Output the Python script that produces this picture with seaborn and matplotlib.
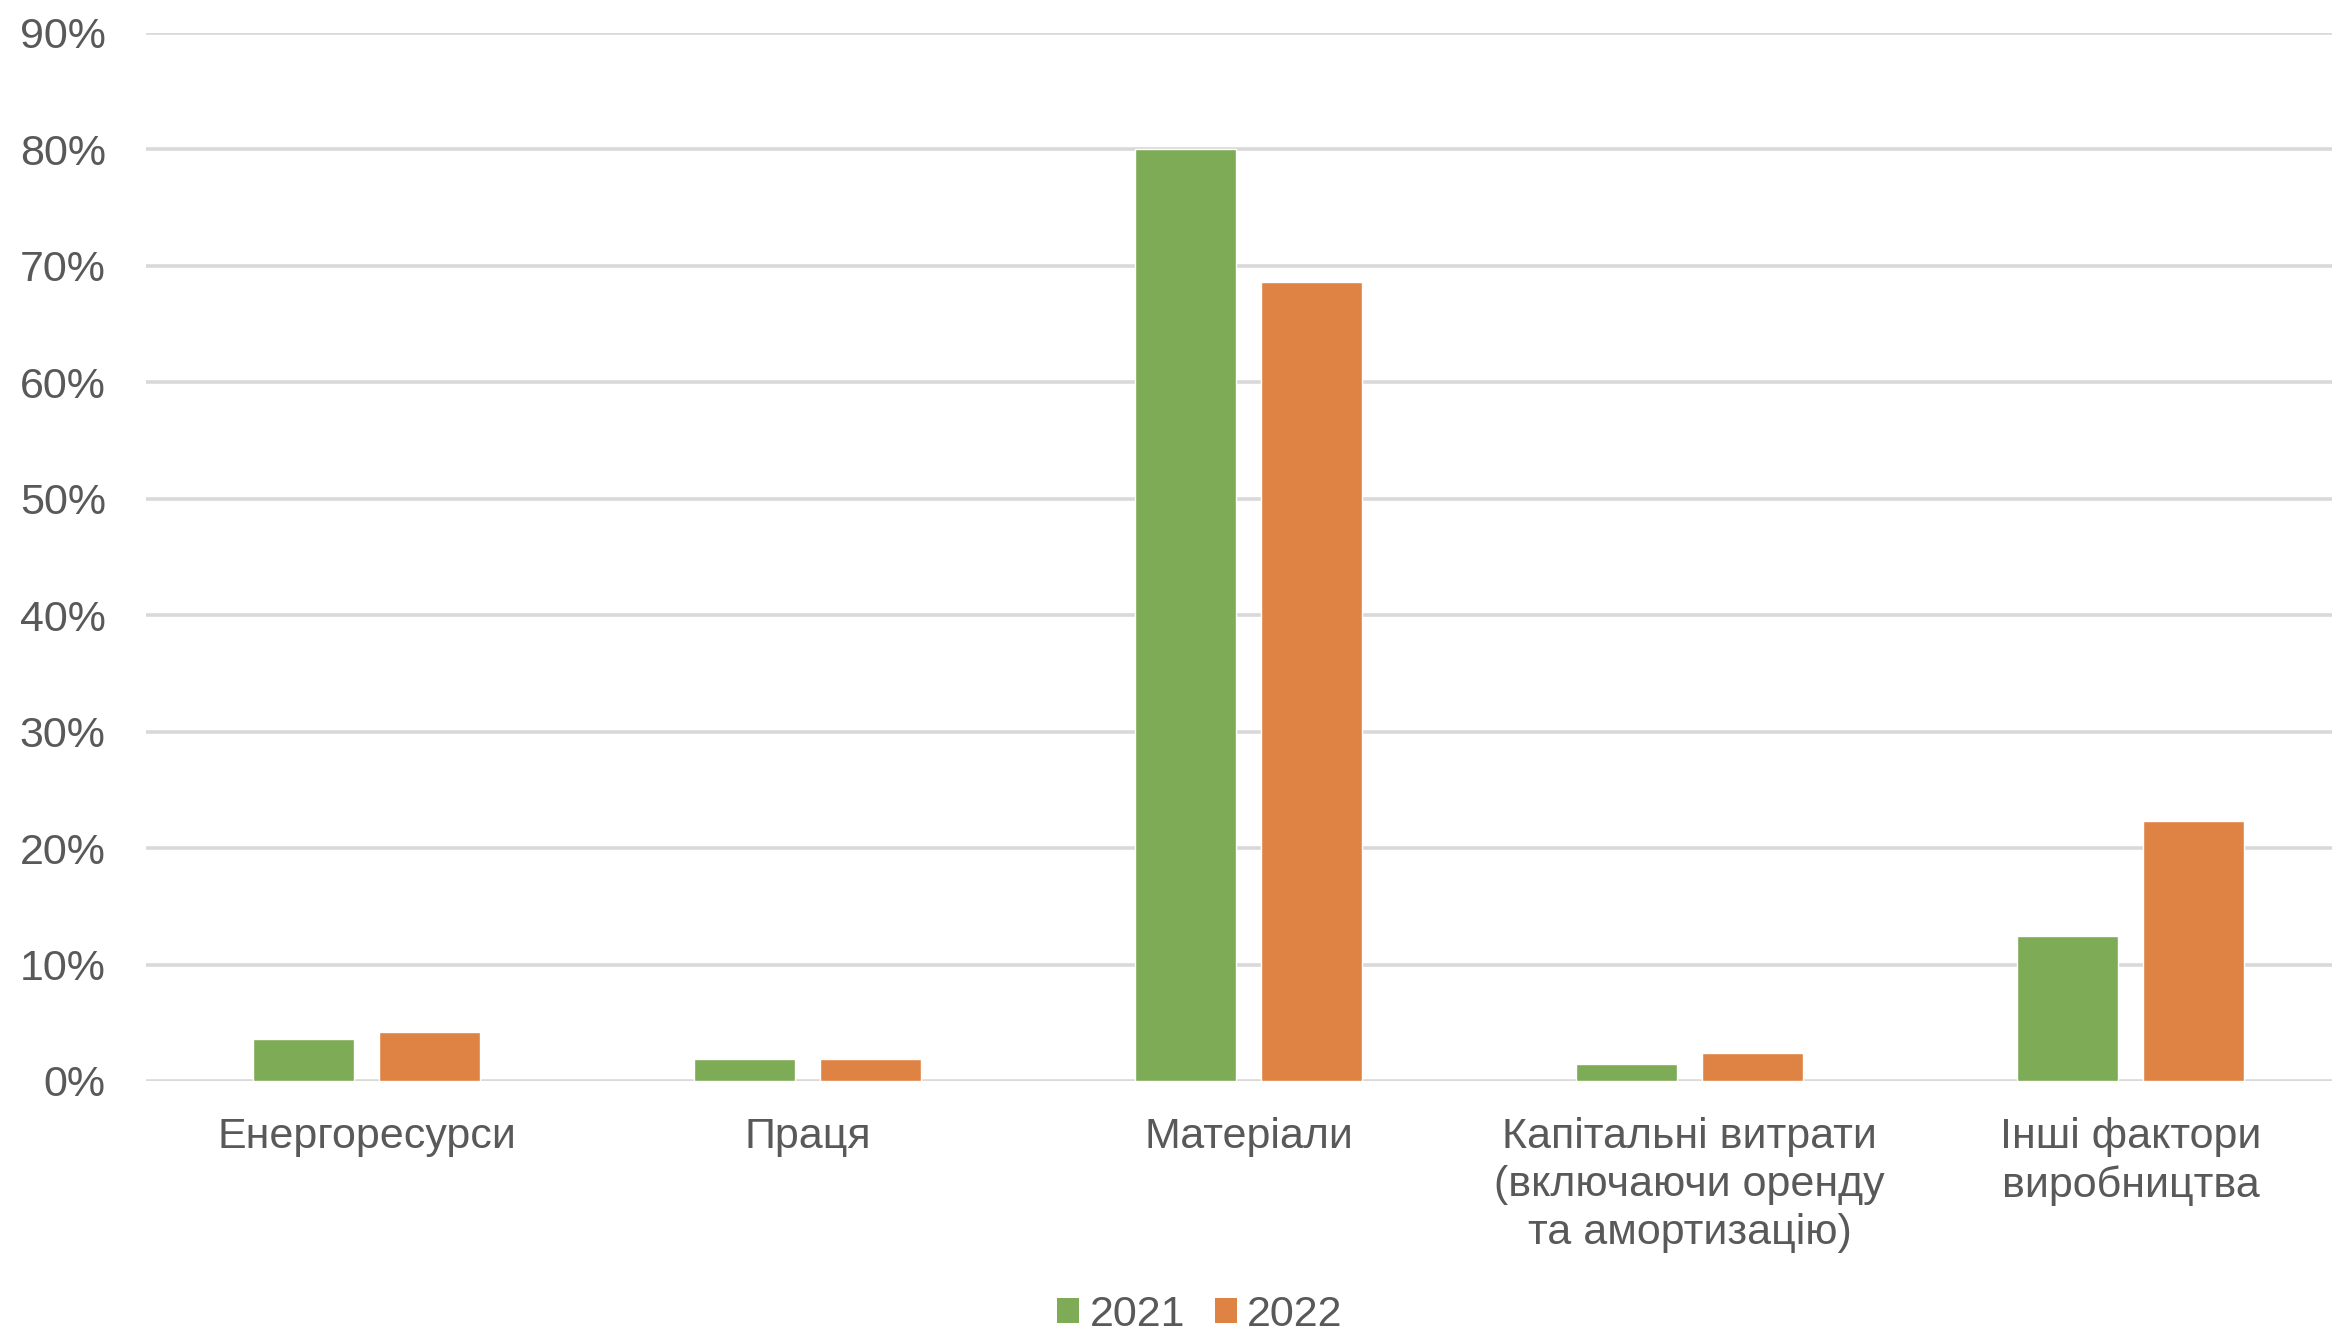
import numpy as np
import pandas as pd
import matplotlib
matplotlib.use("Agg")
import matplotlib.pyplot as plt
import seaborn as sns
from matplotlib.patches import Patch
from matplotlib.ticker import PercentFormatter

categories = [
    "Енергоресурси",
    "Праця",
    "Матеріали",
    "Капітальні витрати\n(включаючи оренду\nта амортизацію)",
    "Інші фактори\nвиробництва",
]
years = ["2021", "2022"]
share_2021 = [0.036, 0.0187, 0.800, 0.0144, 0.1247]
share_2022 = [0.042, 0.0187, 0.686, 0.024, 0.2236]
colors = {"2021": "#7EAB55", "2022": "#DE8344"}

df = pd.DataFrame({
    "category": categories * 2,
    "year": [years[0]] * len(categories) + [years[1]] * len(categories),
    "share": share_2021 + share_2022,
})

sns.set_style("white")
plt.rcParams["font.family"] = ["Liberation Sans", "DejaVu Sans"]
text_color = "#595959"

fig = plt.figure(figsize=(23.32, 13.34), dpi=100)
# plot area runs a little past the right edge of the figure, as in the source
ax = fig.add_axes([146 / 2332, 1 - 1081 / 1334, 2205 / 2332, (1081 - 33) / 1334])

sns.barplot(data=df, x="category", y="share", hue="year", palette=colors,
            width=0.572, gap=0.2, saturation=1, legend=False, ax=ax, zorder=3)

ax.set_ylim(0, 0.9)
ax.set_yticks(np.arange(0, 0.91, 0.1))
ax.yaxis.set_major_formatter(PercentFormatter(1.0, decimals=0))
ax.set_xlim(-0.5, len(categories) - 0.5)
ax.grid(axis="y", color="#D9D9D9", linewidth=2.6, zorder=0)
ax.set_axisbelow(True)
for s in ax.spines.values():
    s.set_visible(False)
ax.tick_params(axis="both", length=0, labelsize=31, colors=text_color)
ax.tick_params(axis="y", pad=29)
ax.tick_params(axis="x", pad=26)
for lab in ax.get_xticklabels():
    lab.set_linespacing(1.25)
ax.set_xlabel("")
ax.set_ylabel("")

handles = [Patch(facecolor=colors[y], edgecolor="none", label=y) for y in years]
fig.legend(handles=handles, loc="center", bbox_to_anchor=(1200 / 2332, 1 - 1315 / 1334),
           ncol=2, frameon=False, fontsize=31, labelcolor=text_color,
           handlelength=0.5, handleheight=0.5, handletextpad=0.25, columnspacing=0.7)

fig.savefig("out.png", dpi=100, facecolor="white")
